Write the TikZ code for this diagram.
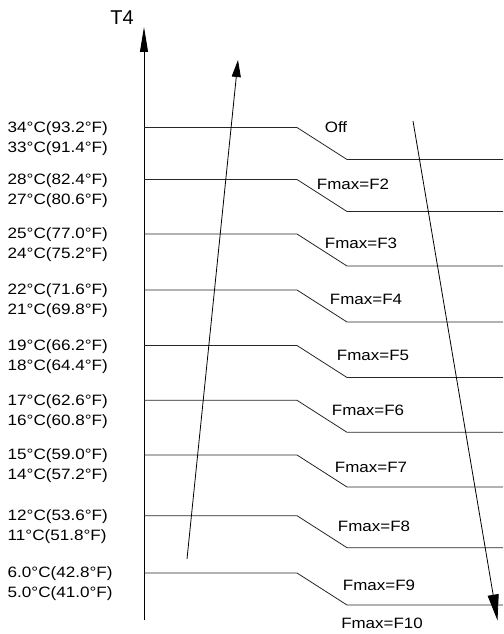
\documentclass[tikz,border=0pt]{standalone}
\usepackage{fontspec}
\setmainfont{Liberation Sans}
\usetikzlibrary{arrows.meta}
\begin{document}
\begin{tikzpicture}[x=1pt,y=-1pt,
  lvl/.style={draw=black!85,line width=0.8pt},
  arr/.style={draw=black,line width=0.8pt},
  tlabel/.style={anchor=west,inner sep=0pt,font=\fontsize{15}{17}\selectfont},
  flabel/.style={inner sep=0pt,font=\fontsize{15}{17}\selectfont}]
\useasboundingbox (0,0) rectangle (503,634);
% axis
\coordinate (ax0) at (144,620);
\coordinate (ax1) at (144,27);
\draw[arr,-{Triangle[length=25pt,width=8pt]}] (ax0) -- (ax1);
\node[inner sep=0pt,font=\fontsize{20}{22}\selectfont] (t4) at (122,18) {T4};
% levels
\foreach \i/\yl/\lx/\ly/\lt/\ta/\tb in {
 1/127.5/336/127/{Off}/{34°C(93.2°F)}/{33°C(91.4°F)},
 2/179.5/353/184/{Fmax=F2}/{28°C(82.4°F)}/{27°C(80.6°F)},
 3/234/361/243/{Fmax=F3}/{25°C(77.0°F)}/{24°C(75.2°F)},
 4/290/366/299/{Fmax=F4}/{22°C(71.6°F)}/{21°C(69.8°F)},
 5/345.5/373/355/{Fmax=F5}/{19°C(66.2°F)}/{18°C(64.4°F)},
 6/400.3/368/410/{Fmax=F6}/{17°C(62.6°F)}/{16°C(60.8°F)},
 7/455/371/467/{Fmax=F7}/{15°C(59.0°F)}/{14°C(57.2°F)},
 8/515.7/374/526/{Fmax=F8}/{12°C(53.6°F)}/{11°C(51.8°F)},
 9/573/379/585/{Fmax=F9}/{6.0°C(42.8°F)}/{5.0°C(41.0°F)}}{
  \coordinate (a\i) at (144,\yl);
  \coordinate (b\i) at (297,\yl);
  \coordinate (c\i) at (347,\yl+32);
  \coordinate (d\i) at (503,\yl+32);
  \draw[lvl] (a\i) -- (b\i) -- (c\i) -- (d\i);
  \node[flabel] (f\i) at (\lx,\ly) {\scalebox{1.13}[1]{\lt}};
  \node[tlabel] (hi\i) at (7.5,\yl+1) {\scalebox{1.14}[1]{\ta}};
  \node[tlabel] (lo\i) at (7.5,\yl+21) {\scalebox{1.14}[1]{\tb}};
}
\node[flabel] (f10) at (382,623) {\scalebox{1.13}[1]{Fmax=F10}};
% rising arrow
\coordinate (up0) at (187,559);
\coordinate (up1) at (238,60);
\draw[arr,-{Triangle[length=17pt,width=9pt]}] (up0) -- (up1);
% falling arrow
\coordinate (dn0) at (413,121);
\coordinate (dn1) at (497.5,620.5);
\draw[arr,-{Triangle[length=26pt,width=11pt]}] (dn0) -- (dn1);
\end{tikzpicture}
\end{document}
